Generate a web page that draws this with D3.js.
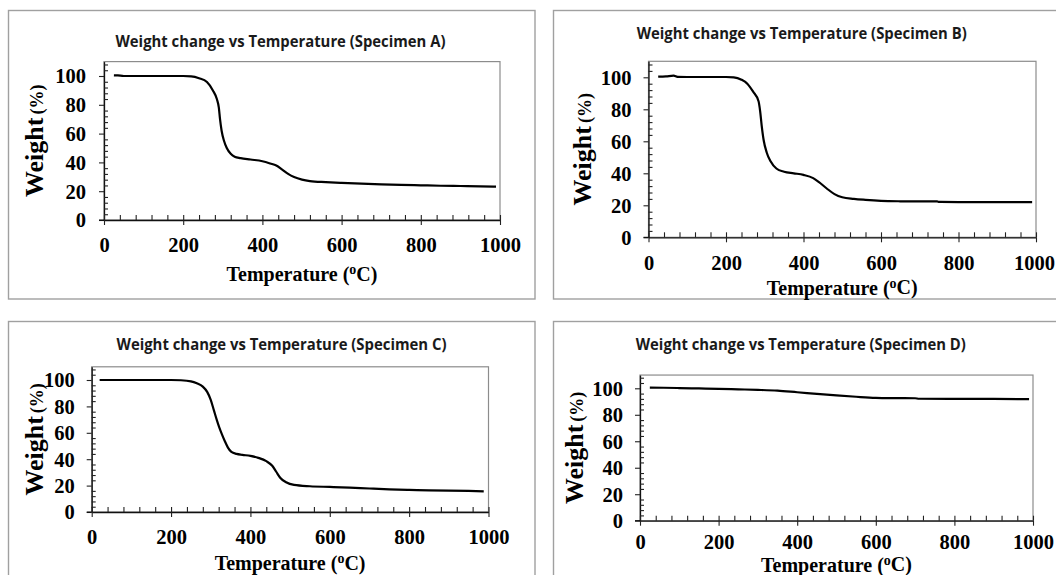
<!DOCTYPE html>
<html><head><meta charset="utf-8">
<script src="https://cdn.jsdelivr.net/npm/d3@7"></script>
<style>html,body{margin:0;padding:0;background:#fff;}svg{display:block}</style>
</head><body>
<svg id="c" width="1056" height="575"></svg>
<script>
// ---- data ----
const titles = ["Weight change vs Temperature (Specimen A)","Weight change vs Temperature (Specimen B)","Weight change vs Temperature (Specimen C)","Weight change vs Temperature (Specimen D)"];
const xTicks = [0,200,400,600,800,1000];
const yTicks = [0,20,40,60,80,100];
const tempA   = [25,35,50,100,150,200,220,240,260,275,285,290,293,297,303,310,320,330,345,370,400,420,435,450,465,480,500,520,560,600,650,700,750,800,850,900,950,990];
const weightA = [100.5,100.4,100,100,100,100,99.8,98.5,95.8,90,84,78,70,62,55,50,46,44,43,42,40.8,39.2,37.8,35,32,29.8,28,27,26.3,25.8,25.3,24.8,24.4,24.1,23.8,23.6,23.4,23.2];
const tempB   = [25,45,65,75,100,150,200,220,240,255,270,284,288,292,297,305,315,330,350,375,400,425,440,460,480,500,530,560,600,650,700,745,750,800,900,990];
const weightB = [100.4,100.6,101,100.3,100.2,100.2,100.2,100,98.5,96,91,85,79,70,61,53,47.5,43,41,40,39,37,34.5,30.5,27,25,24,23.4,22.8,22.5,22.4,22.4,22.1,22,22,22];
const tempC   = [20,100,200,225,250,265,280,291,300,308,315,321,328,335,343,352,365,380,400,420,440,455,465,475,490,510,550,600,650,700,750,800,850,900,950,988];
const weightC = [100,100,100,99.8,99,97.5,95,91,85,77,70,64.5,59,54,49,45.5,44,43.3,42.5,41,38.5,35,30.5,26,22.5,20.5,19.5,19,18.5,17.8,17.2,16.8,16.4,16.2,16,15.7];
const tempD   = [25,60,100,150,200,250,300,350,400,450,500,550,600,650,700,710,800,900,990];
const weightD = [100.5,100.4,100.2,99.9,99.6,99.2,98.8,98.2,97,95.8,94.6,93.6,92.8,92.6,92.5,92.1,92,92,91.8];

// ---- layout ----
const layout = [
 {temp:tempA, weight:weightA, box:[8.5,10.5,526.5,288.5], l:104, r:500, b:220, y100:76, tx:280.5, ty:46.5, xl:245, xt:274, yt:37.5, pad:13},
 {temp:tempB, weight:weightB, box:[553.5,10.5,600,288.5], l:648.5, r:1036, b:237.3, y100:77.3, tx:801.7, ty:38.5, xl:263, xt:287.5, yt:585, pad:12},
 {temp:tempC, weight:weightC, box:[8.5,321.5,526.5,400], l:91.7, r:488.5, b:512, y100:380, tx:281.5, ty:350, xl:537, xt:563, yt:37, pad:12},
 {temp:tempD, weight:weightD, box:[553.5,321.5,600,400], l:640, r:1033, b:520.7, y100:388.3, tx:800.8, ty:350, xl:542, xt:564.5, yt:577, pad:12}
];

const svg = d3.select("#c");
svg.append("rect").attr("width",1056).attr("height",575).attr("fill","#fff");
const serif = "'Liberation Serif','Times New Roman',serif";
const xMinor = d3.range(0,1001,40).filter(v=>v%200!==0);
const yMinor = d3.range(0,111,4).filter(v=>v%20!==0);

layout.forEach((p,i)=>{
  const g = svg.append("g");
  g.append("rect").attr("x",p.box[0]).attr("y",p.box[1]).attr("width",p.box[2]).attr("height",p.box[3])
    .attr("fill","#fff").attr("stroke","#a0a0a0").attr("stroke-width",1.4);
  const k = (p.b - p.y100)/100;
  const x = d3.scaleLinear().domain([0,1000]).range([p.l,p.r]);
  const y = d3.scaleLinear().domain([0,110]).range([p.b,p.b-110*k]);
  // frame
  g.append("rect").attr("x",p.l).attr("y",y(110)).attr("width",p.r-p.l).attr("height",p.b-y(110))
    .attr("fill","none").attr("stroke","#8c8c8c").attr("stroke-width",1.2);
  // title
  g.append("text").attr("x",p.tx).attr("y",p.ty).attr("text-anchor","middle")
    .attr("font-family","'Open Sans', Lato, sans-serif").attr("font-weight",700).attr("font-size",16.5)
    .attr("textLength",330).attr("lengthAdjust","spacingAndGlyphs").attr("fill","#1a1a1a").text(titles[i]);
  // y axis: outward major ticks + labels
  const ya = g.append("g").attr("transform",`translate(${p.l},0)`)
    .call(d3.axisLeft(y).tickValues(yTicks).tickSize(5).tickSizeOuter(0).tickPadding(p.pad));
  ya.selectAll("text").attr("font-family",serif).attr("font-weight","bold").attr("font-size",20.5).attr("fill","#000").attr("dy","0.34em");
  // inner minor ticks
  g.append("g").attr("transform",`translate(${p.l},0)`)
    .call(d3.axisRight(y).tickValues(yMinor).tickSize(4).tickSizeOuter(0).tickFormat(""))
    .select(".domain").remove();
  // x axis
  const xa = g.append("g").attr("transform",`translate(0,${p.b})`)
    .call(d3.axisBottom(x).tickValues(xTicks).tickSize(5).tickSizeOuter(0).tickFormat(d3.format("d")));
  xa.selectAll("text").attr("font-family",serif).attr("font-weight","bold").attr("font-size",20.5).attr("fill","#000")
    .attr("y",p.xl-p.b).attr("dy","0.35em")
    .attr("dx",d=> (x(d)+21>1055 ? 1055-21-x(d) : 0));
  g.append("g").attr("transform",`translate(0,${p.b})`)
    .call(d3.axisTop(x).tickValues(xTicks.concat(xMinor)).tickSize(5).tickSizeOuter(0).tickFormat(""))
    .select(".domain").remove();
  g.append("line").attr("x1",x(0)-5).attr("x2",x(0)).attr("y1",p.b).attr("y2",p.b).attr("stroke","#000");
  g.selectAll(".tick line").attr("stroke","#222").attr("stroke-width",1.1);
  g.selectAll(".domain").attr("stroke","#111").attr("stroke-width",1.3);
  // x title
  const xt = g.append("text").attr("x",(p.l+p.r)/2).attr("y",p.xt).attr("dy","0.35em").attr("text-anchor","middle")
    .attr("font-family",serif).attr("font-weight","bold").attr("font-size",20).attr("fill","#000");
  xt.append("tspan").text("Temperature (");
  xt.append("tspan").attr("font-size",14).attr("dy","-0.5em").text("o");
  xt.append("tspan").attr("dy","0.33em").text("C)");
  // y title
  const yt = g.append("text").attr("transform",`translate(${p.yt},${(p.b+y(110))/2}) rotate(-90)`)
    .attr("text-anchor","middle").attr("dy","0.35em").attr("font-family",serif).attr("fill","#000");
  yt.append("tspan").attr("font-weight","bold").attr("font-size",26).text("Weight");
  yt.append("tspan").attr("font-size",18).attr("font-weight","bold").attr("dx",3).text("(%)");
  // line
  const pts = p.temp.map((t,j)=>[t,p.weight[j]]);
  g.append("path").datum(pts).attr("fill","none").attr("stroke","#000").attr("stroke-width",2.2)
    .attr("stroke-linejoin","round")
    .attr("d",d3.line().x(d=>x(d[0])).y(d=>y(d[1])).curve(d3.curveMonotoneX));
});
</script>
</body></html>
